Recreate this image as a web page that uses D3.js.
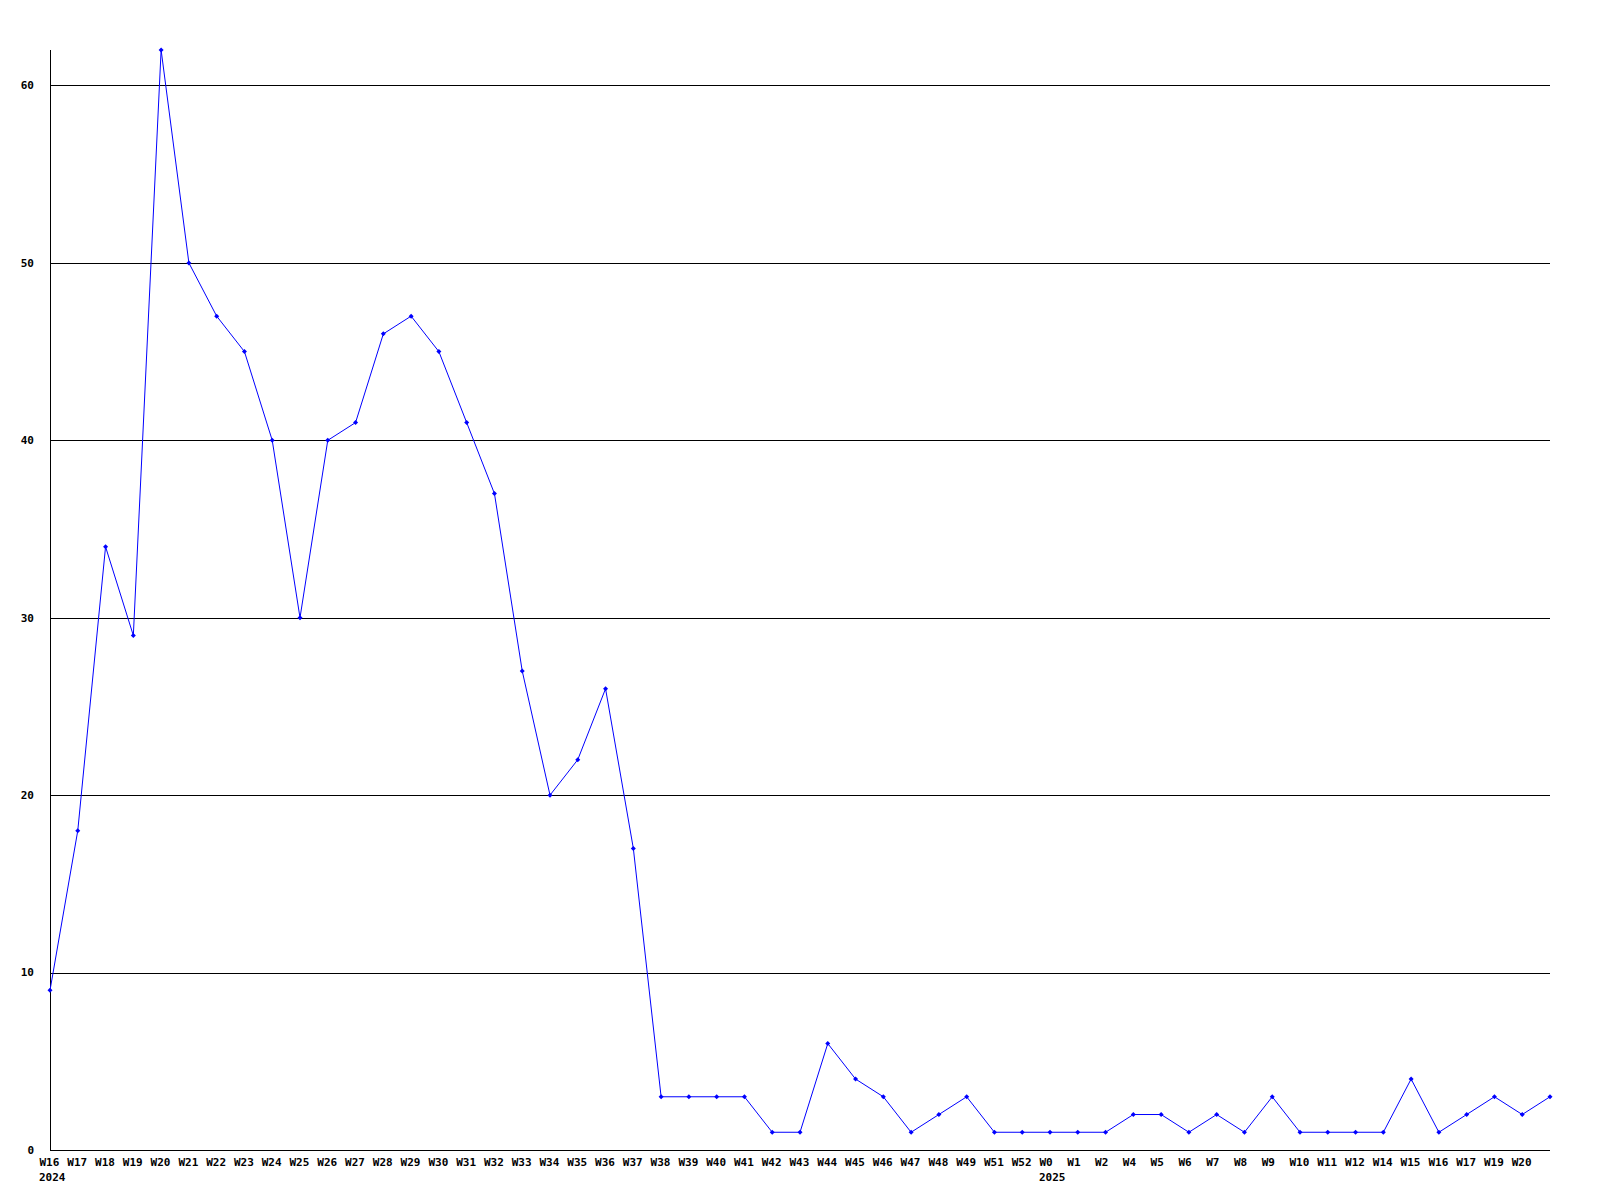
<!DOCTYPE html>
<html>
<head>
<meta charset="utf-8">
<script src="https://cdn.jsdelivr.net/npm/d3@7"></script>
<style>
  html, body { margin: 0; padding: 0; background: #fff; }
  svg { display: block; }
  text { font-family: "DejaVu Sans Mono", "Liberation Mono", monospace; font-weight: bold; font-size: 11px; fill: #000; }
</style>
</head>
<body>
<svg id="chart" width="1600" height="1200"></svg>
<script>
// Week categories (unique keys); the last point has no printed label
const weeks = [
  "2024-W16","2024-W17","2024-W18","2024-W19","2024-W20","2024-W21","2024-W22","2024-W23","2024-W24","2024-W25",
  "2024-W26","2024-W27","2024-W28","2024-W29","2024-W30","2024-W31","2024-W32","2024-W33","2024-W34","2024-W35",
  "2024-W36","2024-W37","2024-W38","2024-W39","2024-W40","2024-W41","2024-W42","2024-W43","2024-W44","2024-W45",
  "2024-W46","2024-W47","2024-W48","2024-W49","2024-W51","2024-W52","2025-W0","2025-W1","2025-W2","2025-W4",
  "2025-W5","2025-W6","2025-W7","2025-W8","2025-W9","2025-W10","2025-W11","2025-W12","2025-W14","2025-W15",
  "2025-W16","2025-W17","2025-W19","2025-W20","2025-W21"
];
const tickLabels = [
  "W16","W17","W18","W19","W20","W21","W22","W23","W24","W25",
  "W26","W27","W28","W29","W30","W31","W32","W33","W34","W35",
  "W36","W37","W38","W39","W40","W41","W42","W43","W44","W45",
  "W46","W47","W48","W49","W51","W52","W0","W1","W2","W4",
  "W5","W6","W7","W8","W9","W10","W11","W12","W14","W15",
  "W16","W17","W19","W20",""
];
const values = [
  9,18,34,29,62,50,47,45,40,30,
  40,41,46,47,45,41,37,27,20,22,
  26,17,3,3,3,3,1,1,6,4,
  3,1,2,3,1,1,1,1,1,2,
  2,1,2,1,3,1,1,1,1,4,
  1,2,3,2,3
];
const yearLabels = ["2024","2025"];
const yearStartWeeks = ["2024-W16","2025-W0"];
const yTicks = [0,10,20,30,40,50,60];

(function () {
const svg = d3.select("#chart");
const mLeft = 50, mRight = 1550, mTop = 50, mBottom = 1150;
const labelOffset = -11;

const x = d3.scalePoint().domain(weeks).range([mLeft, mRight]);
const y = d3.scaleLinear().domain([0, d3.max(values)]).range([mBottom, mTop]);

// grid lines
svg.append("g")
  .selectAll("line")
  .data(yTicks.filter(d => d > 0))
  .join("line")
  .attr("x1", mLeft).attr("x2", mRight)
  .attr("y1", d => Math.round(y(d)) + 0.5).attr("y2", d => Math.round(y(d)) + 0.5)
  .attr("stroke", "#000").attr("stroke-width", 1);

// axes lines
svg.append("line").attr("x1", mLeft + 0.5).attr("x2", mLeft + 0.5).attr("y1", mTop).attr("y2", mBottom)
  .attr("stroke", "#000");
svg.append("line").attr("x1", mLeft).attr("x2", mRight).attr("y1", mBottom + 0.5).attr("y2", mBottom + 0.5)
  .attr("stroke", "#000");

// y axis labels
const yAxis = d3.axisLeft(y).tickValues(yTicks).tickSize(0).tickPadding(16).tickFormat(d3.format("d"));
const gy = svg.append("g").attr("transform", `translate(${mLeft},0)`).call(yAxis);
gy.select(".domain").remove();
gy.selectAll("text").attr("font-family", null).attr("font-size", null).attr("dy", "0.3em");

// x axis labels (left-aligned slightly before each point)
const xAxis = d3.axisBottom(x).tickSize(0).tickPadding(8)
  .tickFormat(d => tickLabels[weeks.indexOf(d)]);
const gx = svg.append("g").attr("transform", `translate(0,${mBottom})`).call(xAxis);
gx.select(".domain").remove();
gx.attr("text-anchor", "start");
gx.selectAll("text").attr("font-family", null).attr("font-size", null).attr("x", labelOffset);

// year labels, left-aligned with the first week label of each year
yearLabels.forEach((yr, i) => {
  const key = yearStartWeeks[i];
  svg.append("text")
    .attr("x", x(key) + labelOffset)
    .attr("y", mBottom + 31)
    .text(yr);
});

// line
const line = d3.line().x((d, i) => x(weeks[i])).y(d => y(d));
svg.append("path").datum(values)
  .attr("d", line)
  .attr("fill", "none")
  .attr("stroke", "#0000ff")
  .attr("stroke-width", 1);

// markers
svg.append("g").selectAll("path")
  .data(values)
  .join("path")
  .attr("transform", (d, i) => `translate(${x(weeks[i])},${y(d)})`)
  .attr("d", "M0,-2.5L2.5,0L0,2.5L-2.5,0Z")
  .attr("fill", "#0000ff");
})();
</script>
</body>
</html>
